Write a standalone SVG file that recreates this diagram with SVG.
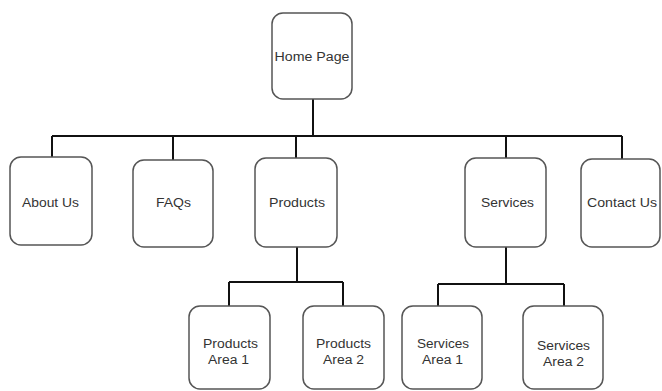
<svg xmlns="http://www.w3.org/2000/svg" width="662" height="391" viewBox="0 0 662 391">
<style>
.box{fill:#fff;stroke:#555;stroke-width:1.5}
.t{font-family:"Liberation Sans",Arial,sans-serif;font-size:12.5px;fill:#333;text-anchor:middle;dominant-baseline:central}
.c{fill:none;stroke:#111;stroke-width:2}
</style>
<rect width="662" height="391" fill="#fff"/>
<g id="connectors">
<path class="c" d="M313 99V136M52 136H622M52 136V157M173 136V160M296 136V158M506 136V158M622 136V159"/>
<path class="c" d="M297 247V282M229 282H343M229 282V306M343 282V306"/>
<path class="c" d="M506 247V284M438 284H564M438 284V306M564 284V306"/>
</g>
<g id="home"><rect class="box" x="272" y="13" width="80" height="86" rx="11"/><text class="t" x="312" y="57" textLength="75" lengthAdjust="spacingAndGlyphs">Home Page</text></g>
<g id="about"><rect class="box" x="10" y="157" width="82" height="88" rx="11"/><text class="t" x="50.5" y="203" textLength="57" lengthAdjust="spacingAndGlyphs">About Us</text></g>
<g id="faqs"><rect class="box" x="133" y="160" width="80" height="87" rx="11"/><text class="t" x="173.5" y="203" textLength="35" lengthAdjust="spacingAndGlyphs">FAQs</text></g>
<g id="products"><rect class="box" x="255" y="158" width="82" height="89" rx="11"/><text class="t" x="297" y="203" textLength="56" lengthAdjust="spacingAndGlyphs">Products</text></g>
<g id="services"><rect class="box" x="465" y="158" width="81" height="89" rx="11"/><text class="t" x="507.5" y="203" textLength="53" lengthAdjust="spacingAndGlyphs">Services</text></g>
<g id="contact"><rect class="box" x="581" y="159" width="79" height="88" rx="11"/><text class="t" x="622" y="203" textLength="70" lengthAdjust="spacingAndGlyphs">Contact Us</text></g>
<g id="pa1"><rect class="box" x="189" y="306" width="81" height="83" rx="11"/><text class="t" x="230.5" y="344" textLength="55" lengthAdjust="spacingAndGlyphs">Products</text><text class="t" x="228.5" y="360" textLength="41" lengthAdjust="spacingAndGlyphs">Area 1</text></g>
<g id="pa2"><rect class="box" x="303" y="306" width="81" height="83" rx="11"/><text class="t" x="343.5" y="344" textLength="55" lengthAdjust="spacingAndGlyphs">Products</text><text class="t" x="343.5" y="360" textLength="41" lengthAdjust="spacingAndGlyphs">Area 2</text></g>
<g id="sa1"><rect class="box" x="402" y="306" width="80" height="83" rx="11"/><text class="t" x="443" y="344" textLength="52" lengthAdjust="spacingAndGlyphs">Services</text><text class="t" x="442.5" y="360" textLength="41" lengthAdjust="spacingAndGlyphs">Area 1</text></g>
<g id="sa2"><rect class="box" x="523" y="306" width="80" height="83" rx="11"/><text class="t" x="563.5" y="346" textLength="53" lengthAdjust="spacingAndGlyphs">Services</text><text class="t" x="563.5" y="362" textLength="41" lengthAdjust="spacingAndGlyphs">Area 2</text></g>
</svg>
